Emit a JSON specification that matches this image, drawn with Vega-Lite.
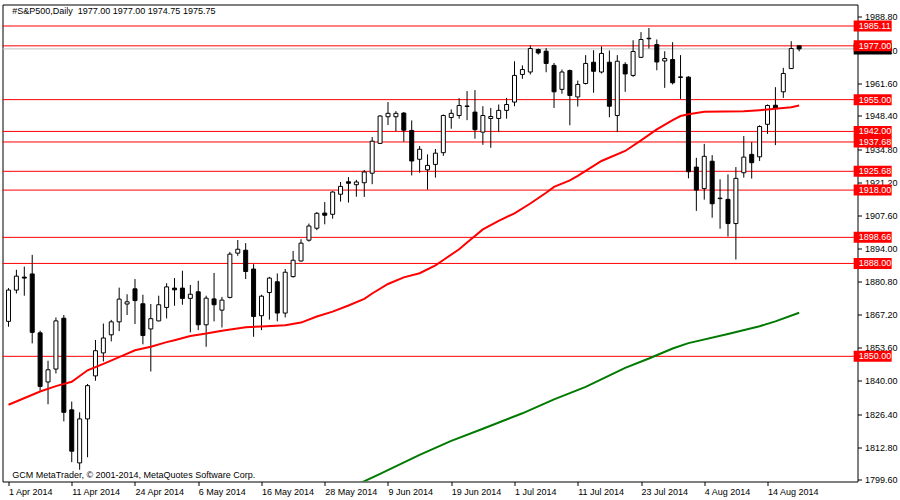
{
"$schema": "https://vega.github.io/schema/vega-lite/v6.json",
"width": 855, "height": 477,
"autosize": {"type": "none"},
"padding": {"left": 2.5, "top": 4.5, "right": 42.5, "bottom": 18.5},
"background": "white",
"config": {"view": {"stroke": "black", "strokeWidth": 1}, "font": "Liberation Sans",
  "axis": {"labelOverlap": false, "labelFlush": false, "grid": false, "title": null, "domain": false, "tickColor": "black", "labelColor": "black", "labelFont": "Liberation Sans", "labelFontSize": 9, "tickSize": 4}},
"datasets": {
"candles": [
{"i":0,"d":"2014-04-01","o":1864.3,"h":1877.9,"l":1862.1,"c":1877.1},
{"i":1,"d":"2014-04-02","o":1877.1,"h":1885.4,"l":1875.7,"c":1882.8},
{"i":2,"d":"2014-04-03","o":1882.4,"h":1886.7,"l":1874.8,"c":1882.0},
{"i":3,"d":"2014-04-04","o":1883.7,"h":1891.5,"l":1855.3,"c":1859.8},
{"i":4,"d":"2014-04-07","o":1859.6,"h":1860.5,"l":1835.9,"c":1837.7},
{"i":5,"d":"2014-04-08","o":1839.5,"h":1848.2,"l":1830.4,"c":1844.5},
{"i":6,"d":"2014-04-09","o":1844.8,"h":1865.9,"l":1843.0,"c":1864.5},
{"i":7,"d":"2014-04-10","o":1865.6,"h":1866.9,"l":1823.4,"c":1827.1},
{"i":8,"d":"2014-04-11","o":1828.1,"h":1831.5,"l":1806.7,"c":1811.2},
{"i":9,"d":"2014-04-14","o":1806.4,"h":1827.1,"l":1803.6,"c":1824.4},
{"i":10,"d":"2014-04-15","o":1824.4,"h":1838.7,"l":1808.7,"c":1838.0},
{"i":11,"d":"2014-04-16","o":1842.0,"h":1856.7,"l":1840.0,"c":1852.3},
{"i":12,"d":"2014-04-17","o":1851.4,"h":1863.4,"l":1847.9,"c":1857.5},
{"i":13,"d":"2014-04-21","o":1858.8,"h":1864.9,"l":1856.1,"c":1864.1},
{"i":14,"d":"2014-04-22","o":1864.1,"h":1878.1,"l":1860.3,"c":1873.4},
{"i":15,"d":"2014-04-23","o":1871.4,"h":1875.4,"l":1866.9,"c":1872.3},
{"i":16,"d":"2014-04-24","o":1877.6,"h":1881.6,"l":1863.2,"c":1872.8},
{"i":17,"d":"2014-04-25","o":1871.5,"h":1875.2,"l":1854.9,"c":1858.5},
{"i":18,"d":"2014-04-28","o":1861.2,"h":1871.4,"l":1843.8,"c":1865.4},
{"i":19,"d":"2014-04-29","o":1864.5,"h":1874.8,"l":1864.3,"c":1871.1},
{"i":20,"d":"2014-04-30","o":1870.0,"h":1879.9,"l":1865.5,"c":1878.4},
{"i":21,"d":"2014-05-01","o":1877.9,"h":1882.0,"l":1870.7,"c":1877.2},
{"i":22,"d":"2014-05-02","o":1877.9,"h":1885.0,"l":1871.1,"c":1873.7},
{"i":23,"d":"2014-05-05","o":1873.7,"h":1879.2,"l":1859.8,"c":1875.4},
{"i":24,"d":"2014-05-06","o":1876.4,"h":1880.9,"l":1860.7,"c":1862.9},
{"i":25,"d":"2014-05-07","o":1862.9,"h":1874.8,"l":1853.9,"c":1873.8},
{"i":26,"d":"2014-05-08","o":1873.5,"h":1884.1,"l":1864.3,"c":1871.1},
{"i":27,"d":"2014-05-09","o":1868.9,"h":1874.3,"l":1861.8,"c":1873.0},
{"i":28,"d":"2014-05-12","o":1874.1,"h":1892.7,"l":1873.7,"c":1891.8},
{"i":29,"d":"2014-05-13","o":1892.2,"h":1897.6,"l":1891.1,"c":1893.8},
{"i":30,"d":"2014-05-14","o":1893.4,"h":1896.3,"l":1881.6,"c":1884.7},
{"i":31,"d":"2014-05-15","o":1885.7,"h":1887.7,"l":1858.0,"c":1866.3},
{"i":32,"d":"2014-05-16","o":1866.6,"h":1875.2,"l":1860.7,"c":1874.6},
{"i":33,"d":"2014-05-19","o":1876.1,"h":1882.5,"l":1865.0,"c":1882.0},
{"i":34,"d":"2014-05-20","o":1880.5,"h":1883.9,"l":1864.3,"c":1867.7},
{"i":35,"d":"2014-05-21","o":1867.7,"h":1885.7,"l":1865.9,"c":1884.4},
{"i":36,"d":"2014-05-22","o":1882.6,"h":1893.1,"l":1882.2,"c":1889.3},
{"i":37,"d":"2014-05-23","o":1889.0,"h":1897.9,"l":1888.8,"c":1896.3},
{"i":38,"d":"2014-05-26","o":1897.5,"h":1904.3,"l":1896.9,"c":1903.3},
{"i":39,"d":"2014-05-27","o":1902.4,"h":1909.0,"l":1901.6,"c":1908.5},
{"i":40,"d":"2014-05-28","o":1908.6,"h":1913.1,"l":1904.0,"c":1907.7},
{"i":41,"d":"2014-05-29","o":1908.1,"h":1917.6,"l":1906.3,"c":1917.2},
{"i":42,"d":"2014-05-30","o":1916.3,"h":1921.3,"l":1913.3,"c":1919.5},
{"i":43,"d":"2014-06-02","o":1921.4,"h":1923.3,"l":1912.9,"c":1920.8},
{"i":44,"d":"2014-06-03","o":1920.2,"h":1922.2,"l":1915.3,"c":1921.3},
{"i":45,"d":"2014-06-04","o":1921.0,"h":1926.2,"l":1915.2,"c":1925.4},
{"i":46,"d":"2014-06-05","o":1924.9,"h":1939.7,"l":1920.4,"c":1938.0},
{"i":47,"d":"2014-06-06","o":1937.1,"h":1948.6,"l":1936.9,"c":1948.3},
{"i":48,"d":"2014-06-09","o":1948.0,"h":1954.0,"l":1944.6,"c":1949.4},
{"i":49,"d":"2014-06-10","o":1948.0,"h":1950.3,"l":1942.1,"c":1949.4},
{"i":50,"d":"2014-06-11","o":1949.5,"h":1949.9,"l":1937.8,"c":1942.5},
{"i":51,"d":"2014-06-12","o":1942.4,"h":1946.5,"l":1924.0,"c":1929.9},
{"i":52,"d":"2014-06-13","o":1930.6,"h":1936.0,"l":1925.1,"c":1934.7},
{"i":53,"d":"2014-06-16","o":1926.3,"h":1932.6,"l":1918.2,"c":1928.1},
{"i":54,"d":"2014-06-17","o":1928.5,"h":1934.8,"l":1923.1,"c":1933.1},
{"i":55,"d":"2014-06-18","o":1933.3,"h":1948.9,"l":1932.0,"c":1948.5},
{"i":56,"d":"2014-06-19","o":1947.7,"h":1951.0,"l":1943.1,"c":1949.4},
{"i":57,"d":"2014-06-20","o":1948.5,"h":1955.6,"l":1947.2,"c":1952.6},
{"i":58,"d":"2014-06-23","o":1952.2,"h":1958.5,"l":1946.6,"c":1952.4},
{"i":59,"d":"2014-06-24","o":1949.9,"h":1958.9,"l":1939.0,"c":1942.7},
{"i":60,"d":"2014-06-25","o":1941.7,"h":1952.3,"l":1936.5,"c":1948.5},
{"i":61,"d":"2014-06-26","o":1947.3,"h":1951.6,"l":1935.3,"c":1948.1},
{"i":62,"d":"2014-06-27","o":1947.3,"h":1953.0,"l":1941.7,"c":1950.6},
{"i":63,"d":"2014-06-30","o":1950.6,"h":1955.7,"l":1947.2,"c":1953.0},
{"i":64,"d":"2014-07-01","o":1954.0,"h":1970.7,"l":1952.3,"c":1964.9},
{"i":65,"d":"2014-07-02","o":1965.3,"h":1969.0,"l":1963.5,"c":1967.3},
{"i":66,"d":"2014-07-03","o":1966.3,"h":1977.2,"l":1965.3,"c":1975.9},
{"i":67,"d":"2014-07-04","o":1975.5,"h":1975.9,"l":1973.4,"c":1974.1},
{"i":68,"d":"2014-07-07","o":1974.8,"h":1976.1,"l":1966.2,"c":1969.8},
{"i":69,"d":"2014-07-08","o":1969.0,"h":1970.0,"l":1951.6,"c":1958.2},
{"i":70,"d":"2014-07-09","o":1959.2,"h":1967.3,"l":1957.4,"c":1966.3},
{"i":71,"d":"2014-07-10","o":1966.9,"h":1967.3,"l":1944.5,"c":1956.7},
{"i":72,"d":"2014-07-11","o":1956.1,"h":1962.8,"l":1952.2,"c":1961.2},
{"i":73,"d":"2014-07-14","o":1961.6,"h":1973.2,"l":1961.2,"c":1969.8},
{"i":74,"d":"2014-07-15","o":1970.3,"h":1975.2,"l":1957.8,"c":1966.6},
{"i":75,"d":"2014-07-16","o":1966.3,"h":1976.8,"l":1965.7,"c":1973.9},
{"i":76,"d":"2014-07-17","o":1970.3,"h":1975.1,"l":1947.8,"c":1952.3},
{"i":77,"d":"2014-07-18","o":1948.5,"h":1973.2,"l":1941.7,"c":1970.7},
{"i":78,"d":"2014-07-21","o":1969.4,"h":1970.3,"l":1958.2,"c":1965.5},
{"i":79,"d":"2014-07-22","o":1964.9,"h":1979.3,"l":1964.3,"c":1974.7},
{"i":80,"d":"2014-07-23","o":1972.3,"h":1982.6,"l":1972.1,"c":1979.6},
{"i":81,"d":"2014-07-24","o":1979.9,"h":1984.3,"l":1975.9,"c":1980.1},
{"i":82,"d":"2014-07-25","o":1977.5,"h":1979.6,"l":1967.0,"c":1970.4},
{"i":83,"d":"2014-07-28","o":1970.8,"h":1974.8,"l":1959.8,"c":1971.8},
{"i":84,"d":"2014-07-29","o":1971.4,"h":1978.5,"l":1961.2,"c":1961.9},
{"i":85,"d":"2014-07-30","o":1964.3,"h":1973.2,"l":1955.3,"c":1964.1},
{"i":86,"d":"2014-07-31","o":1964.2,"h":1964.6,"l":1922.8,"c":1925.5},
{"i":87,"d":"2014-08-01","o":1927.4,"h":1931.2,"l":1909.5,"c":1918.0},
{"i":88,"d":"2014-08-04","o":1918.6,"h":1936.9,"l":1914.1,"c":1931.8},
{"i":89,"d":"2014-08-05","o":1929.8,"h":1932.3,"l":1906.7,"c":1912.4},
{"i":90,"d":"2014-08-06","o":1914.5,"h":1922.4,"l":1902.2,"c":1914.7},
{"i":91,"d":"2014-08-07","o":1914.2,"h":1924.4,"l":1899.0,"c":1904.3},
{"i":92,"d":"2014-08-08","o":1904.3,"h":1927.4,"l":1889.6,"c":1922.8},
{"i":93,"d":"2014-08-11","o":1925.1,"h":1940.1,"l":1923.1,"c":1931.5},
{"i":94,"d":"2014-08-12","o":1932.6,"h":1937.6,"l":1922.7,"c":1929.2},
{"i":95,"d":"2014-08-13","o":1931.6,"h":1944.5,"l":1929.9,"c":1944.0},
{"i":96,"d":"2014-08-14","o":1944.9,"h":1953.0,"l":1941.0,"c":1952.6},
{"i":97,"d":"2014-08-15","o":1952.7,"h":1960.1,"l":1936.4,"c":1951.4},
{"i":98,"d":"2014-08-18","o":1958.2,"h":1968.0,"l":1955.7,"c":1965.7},
{"i":99,"d":"2014-08-19","o":1967.7,"h":1978.9,"l":1967.7,"c":1975.9},
{"i":100,"d":"2014-08-20","o":1977.0,"h":1977.0,"l":1974.75,"c":1975.75}
],
"ma50": [
{"i":0,"v":1830.2},{"i":4,"v":1835.6},{"i":6,"v":1837.8},{"i":8,"v":1839.6},{"i":10,"v":1844.3},{"i":12,"v":1846.9},{"i":14,"v":1849.7},{"i":16,"v":1852.5},{"i":18,"v":1853.9},{"i":20,"v":1855.8},{"i":21,"v":1856.6},{"i":23,"v":1858.3},{"i":25,"v":1859.3},{"i":27,"v":1860.5},{"i":30,"v":1861.9},{"i":32,"v":1862.2},{"i":35,"v":1862.7},{"i":37,"v":1863.8},{"i":39,"v":1866.3},{"i":41,"v":1868.3},{"i":43,"v":1870.8},{"i":45,"v":1873.5},{"i":46,"v":1875.7},{"i":48,"v":1879.6},{"i":50,"v":1882.3},{"i":52,"v":1884.0},{"i":54,"v":1887.2},{"i":55,"v":1889.4},{"i":57,"v":1893.8},{"i":58,"v":1896.6},{"i":60,"v":1901.9},{"i":62,"v":1905.4},{"i":64,"v":1908.5},{"i":66,"v":1912.5},{"i":68,"v":1916.9},{"i":69,"v":1919.3},{"i":71,"v":1922.0},{"i":72,"v":1923.8},{"i":75,"v":1929.9},{"i":78,"v":1934.0},{"i":80,"v":1938.3},{"i":82,"v":1942.8},{"i":84,"v":1946.6},{"i":85,"v":1948.3},{"i":86,"v":1949.0},{"i":88,"v":1950.0},{"i":93,"v":1950.2},{"i":95,"v":1950.7},{"i":97,"v":1951.3},{"i":99,"v":1951.9},{"i":100,"v":1952.6}
],
"ma200": [
{"i":44,"v":1797.4},{"i":47,"v":1801.9},{"i":52,"v":1809.7},{"i":56,"v":1815.4},{"i":60,"v":1820.4},{"i":65,"v":1826.7},{"i":69,"v":1832.4},{"i":73,"v":1837.5},{"i":78,"v":1845.3},{"i":81,"v":1849.1},{"i":84,"v":1853.2},{"i":86,"v":1855.4},{"i":91,"v":1859.1},{"i":95,"v":1862.3},{"i":97,"v":1864.3},{"i":100,"v":1867.8}
],
"levels": [
{"p":1985.11},{"p":1977.00},{"p":1955.00},{"p":1942.00},{"p":1937.68},{"p":1925.68},{"p":1918.00},{"p":1898.66},{"p":1888.00},{"p":1850.00}
]
},
"layer": [
{"data": {"values": [{"p": 1975.75}]},
 "mark": {"type": "rule", "color": "#c0c0c0", "strokeWidth": 1},
 "encoding": {"y": {"field": "p", "type": "quantitative", "scale": {"domain": [1798.8, 1993.91], "nice": false, "zero": false},
   "axis": {"orient": "right", "values": [1799.6,1812.8,1826.4,1840,1853.6,1867.2,1880.8,1894,1907.6,1921.2,1934.8,1948.4,1961.6,1975.2,1988.8], "tickCount": 100, "format": ".2f", "labelPadding": 3, "labelAlign": "left", "labelBaseline": "middle", "labelOverlap": false}}}},
{"data": {"name": "levels"},
 "mark": {"type": "rule", "color": "#ff0000", "strokeWidth": 1},
 "encoding": {"y": {"field": "p", "type": "quantitative"}}},
{"data": {"name": "candles"},
 "mark": {"type": "rule", "color": "black", "strokeWidth": 1, "clip": true},
 "encoding": {
   "x": {"field": "i", "type": "quantitative", "scale": {"domain": [-0.125, 106.75], "nice": false, "zero": false},
     "axis": {"orient": "bottom", "values": [0,8,16,24,32,40,48,56,64,72,80,88,96], "tickCount": 100, "labelExpr": "['1 Apr 2014','11 Apr 2014','24 Apr 2014','6 May 2014','16 May 2014','28 May 2014','9 Jun 2014','19 Jun 2014','1 Jul 2014','11 Jul 2014','23 Jul 2014','4 Aug 2014','14 Aug 2014'][round(datum.value/8)]", "labelPadding": 2, "labelAlign": "left", "labelBaseline": "top", "labelOverlap": false}},
   "y": {"field": "l", "type": "quantitative"},
   "y2": {"field": "h"}}},
{"data": {"name": "candles"},
 "mark": {"type": "bar", "width": 4, "stroke": "black", "strokeWidth": 1, "clip": true},
 "encoding": {
   "x": {"field": "i", "type": "quantitative"},
   "y": {"field": "o", "type": "quantitative"},
   "y2": {"field": "c"},
   "fill": {"condition": {"test": "datum.c >= datum.o", "value": "white"}, "value": "black"}}},
{"data": {"name": "ma50"},
 "mark": {"type": "line", "color": "#ff0000", "strokeWidth": 2, "clip": true},
 "encoding": {"x": {"field": "i", "type": "quantitative"}, "y": {"field": "v", "type": "quantitative"}}},
{"data": {"name": "ma200"},
 "mark": {"type": "line", "color": "#007a00", "strokeWidth": 2, "clip": true},
 "encoding": {"x": {"field": "i", "type": "quantitative"}, "y": {"field": "v", "type": "quantitative"}}},
{"data": {"values": [{"p": 1975.75}]},
 "mark": {"type": "tick", "orient": "horizontal", "size": 38, "thickness": 11, "color": "black", "opacity": 1},
 "encoding": {"x": {"datum": 109.3, "type": "quantitative"}, "y": {"field": "p", "type": "quantitative"}}},
{"data": {"name": "levels"},
 "mark": {"type": "tick", "orient": "horizontal", "size": 38, "thickness": 11, "color": "#ff0000", "opacity": 1},
 "encoding": {"x": {"datum": 109.3, "type": "quantitative"}, "y": {"field": "p", "type": "quantitative"}}},
{"data": {"name": "levels"},
 "mark": {"type": "text", "align": "left", "baseline": "middle", "color": "white", "font": "Liberation Sans", "fontSize": 9},
 "encoding": {"x": {"datum": 107.55, "type": "quantitative"}, "y": {"field": "p", "type": "quantitative"}, "text": {"field": "p", "type": "quantitative", "format": ".2f"}}},
{"data": {"values": [{"t": "#S&P500,Daily\u00a0\u00a01977.00 1977.00 1974.75 1975.75"}]},
 "mark": {"type": "text", "align": "left", "baseline": "middle", "color": "black", "font": "Liberation Sans", "fontSize": 9},
 "encoding": {"x": {"datum": 0.475, "type": "quantitative"}, "y": {"datum": 1991.25, "type": "quantitative"}, "text": {"field": "t"}}},
{"data": {"values": [{"t": "GCM MetaTrader, © 2001-2014, MetaQuotes Software Corp."}]},
 "mark": {"type": "text", "align": "left", "baseline": "middle", "color": "black", "font": "Liberation Sans", "fontSize": 9},
 "encoding": {"x": {"datum": 0.475, "type": "quantitative"}, "y": {"datum": 1801.6, "type": "quantitative"}, "text": {"field": "t"}}}
]
}
